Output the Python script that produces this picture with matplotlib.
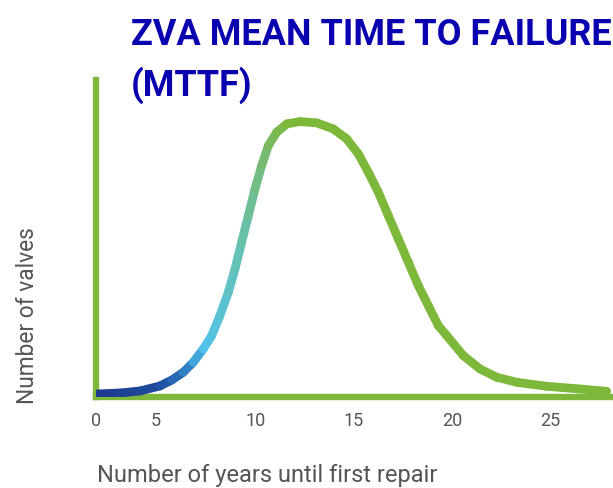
import matplotlib
matplotlib.use("Agg")
import matplotlib.pyplot as plt
import numpy as np
from matplotlib.collections import LineCollection
from matplotlib.colors import LinearSegmentedColormap

# values (years, number of valves as % of the peak)
years = [1.89, 3.06, 4.08, 5.10, 5.71, 6.29, 6.80, 7.31, 7.74, 8.16, 8.59,
         8.93, 9.27, 9.61, 9.95, 10.29, 10.63, 11.06, 11.57, 12.24, 13.10,
         13.94, 14.63, 15.22, 15.73, 16.24, 16.75, 17.26, 17.77, 18.28, 18.79,
         19.30, 19.73, 20.58, 21.43, 22.28, 23.30, 24.83, 26.53, 27.89]
valves = [1.09, 1.45, 2.18, 4.00, 6.18, 8.97, 12.60, 17.44, 22.27, 29.53, 38.03,
          46.49, 56.19, 65.86, 75.55, 84.02, 91.28, 96.15, 99.16, 100.0, 99.53,
          97.35, 93.72, 88.27, 81.62, 74.36, 65.86, 57.39, 48.93, 40.43, 33.16,
          25.90, 22.27, 15.00, 10.17, 7.16, 5.34, 3.89, 2.91, 2.07]

tick_pos = [1.84, 4.9, 10, 15, 20, 25]
tick_labels = ["0", "5", "10", "15", "20", "25"]

title_lines = ["ZVA MEAN TIME TO FAILURE", "(MTTF)"]
xlabel = "Number of years until first repair"
ylabel = "Number of valves"

GREEN = "#7db83a"
TITLE_BLUE = "#0a00b0"
GREY = "#555555"
FONT = ["Roboto", "DejaVu Sans"]

W, H = 613, 489
XMIN, XMAX = 1.84, 28.21

fig = plt.figure(figsize=(W / 100, H / 100), dpi=100)
ax = fig.add_axes([96 / W, (H - 398) / H, (W - 96) / W, (398 - 81) / H])


def px(x, y):
    # pixel position (from top left) -> figure fraction
    return x / W, 1 - y / H


def fit(t, target, horizontal=True):
    bb = t.get_window_extent(fig.canvas.get_renderer())
    cur = bb.width if horizontal else bb.height
    t.set_fontsize(t.get_fontsize() * target / cur)


x = np.array(years)
y = np.array(valves)
pts = np.column_stack([x, y]).reshape(-1, 1, 2)
segs = np.concatenate([pts[:-1], pts[1:]], axis=1)

# navy -> light blue -> teal -> green along the curve
cmap = LinearSegmentedColormap.from_list(
    "mttf",
    [(0.0, "#1b3a8a"), (0.124, "#1f4b9e"), (0.169, "#2a72bb"), (0.211, "#4fc2ee"),
     (0.26, "#5fc2c6"), (0.298, "#6dbf9a"), (0.336, "#79ba62"), (0.374, GREEN),
     (1.0, GREEN)])
mid = (x[:-1] + x[1:]) / 2
lc = LineCollection(segs, colors=cmap((mid - XMIN) / (XMAX - XMIN)),
                    linewidths=6.3, capstyle="round", joinstyle="round", zorder=3)
ax.add_collection(lc)

ax.set_xlim(XMIN, XMAX)
ax.set_ylim(0, 115.1)

for s in ["top", "right"]:
    ax.spines[s].set_visible(False)
for s in ["left", "bottom"]:
    ax.spines[s].set_color(GREEN)
    ax.spines[s].set_linewidth(4.6)
    ax.spines[s].set_zorder(2)

ax.set_xticks(tick_pos, tick_labels)
ax.set_yticks([])
ax.tick_params(axis="x", length=0, pad=10, labelsize=13, labelcolor=GREY)
for lab in ax.get_xticklabels():
    lab.set_family(FONT)

t1 = fig.text(*px(131, 45), title_lines[0], ha="left", va="baseline",
              fontsize=27, fontweight="bold", color=TITLE_BLUE, family=FONT)
t2 = fig.text(*px(131, 96), title_lines[1], ha="left", va="baseline",
              fontsize=27, fontweight="bold", color=TITLE_BLUE, family=FONT)
xl = fig.text(*px(97, 482), xlabel, ha="left", va="baseline",
              fontsize=16, color=GREY, family=FONT)
yl = fig.text(*px(28, 316), ylabel, ha="center", va="center", rotation=90,
              fontsize=16, color=GREY, family=FONT)

fit(t1, 481)
t2.set_fontsize(t1.get_fontsize())
fit(xl, 340)
fit(yl, 178, horizontal=False)

fig.savefig("out.png", dpi=100)
